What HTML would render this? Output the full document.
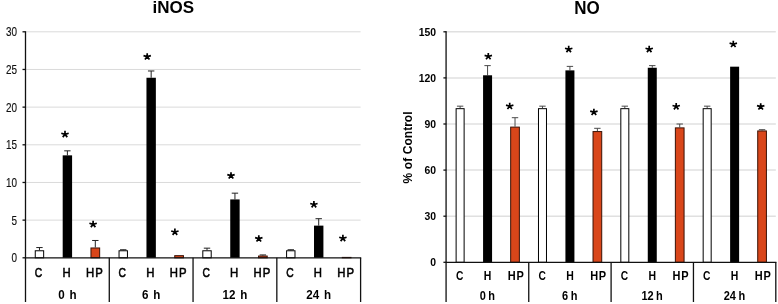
<!DOCTYPE html>
<html><head><meta charset="utf-8"><title>chart</title>
<style>
html,body{margin:0;padding:0;background:#fff;}
body{width:778px;height:304px;overflow:hidden;font-family:"Liberation Sans",sans-serif;}
svg{display:block;will-change:transform;}
text{font-family:"Liberation Sans",sans-serif;fill:#000;}
.t{font-weight:bold;font-size:17px;}
.cat{font-size:12.6px;stroke:#000;stroke-width:0.55px;}
.cat2{font-size:12.5px;font-weight:bold;}
.grp2{font-size:12.8px;font-weight:bold;word-spacing:-0.7px;}
.grp{font-size:12.9px;font-weight:bold;word-spacing:1.9px;}
.yl{font-size:12.4px;fill:#111;stroke:#111;stroke-width:0.15px;}
.yr{font-size:11.2px;font-weight:bold;}
.ax{stroke:#111;stroke-width:1.3;fill:none;}
.gr{stroke:#dadada;stroke-width:1;fill:none;}
.gr2{stroke:#e0e0e0;stroke-width:1.5;fill:none;}
.ax2{stroke:#484848;stroke-width:1.7;fill:none;}
.eb{stroke:#222;stroke-width:1;fill:none;}
.eb2{stroke:#4a4a4a;stroke-width:1;fill:none;}
.ebg{stroke:#555;stroke-width:1;fill:none;}
</style></head><body>
<svg width="778" height="304" viewBox="0 0 778 304">
<rect width="778" height="304" fill="#fff"/>
<line class="gr" x1="25.5" y1="220.13" x2="360.6" y2="220.13"/>
<line class="gr" x1="25.5" y1="182.47" x2="360.6" y2="182.47"/>
<line class="gr" x1="25.5" y1="144.8" x2="360.6" y2="144.8"/>
<line class="gr" x1="25.5" y1="107.13" x2="360.6" y2="107.13"/>
<line class="gr" x1="25.5" y1="69.47" x2="360.6" y2="69.47"/>
<line class="gr" x1="25.5" y1="31.8" x2="360.6" y2="31.8"/>
<path class="eb" d="M39.46 250.27 V247.55 M36.26 247.55 H42.66"/>
<rect x="35.26" y="250.77" width="8.4" height="7.03" fill="#fff" stroke="#000" stroke-width="1"/>
<path class="eb" d="M67.39 155.35 V150.83 M64.19 150.83 H70.59"/>
<rect x="62.69" y="155.35" width="9.4" height="102.45" fill="#000"/>
<path class="eb" d="M95.31 247.48 V240.47 M92.11 240.47 H98.51"/>
<rect x="90.96" y="247.98" width="8.7" height="9.82" fill="#d9461a" stroke="#3a1206" stroke-width="1"/>
<path class="eb" d="M123.24 250.27 V249.74 M120.04 249.74 H126.44"/>
<rect x="119.04" y="250.77" width="8.4" height="7.03" fill="#fff" stroke="#000" stroke-width="1"/>
<path class="eb" d="M151.16 77.75 V70.97 M147.96 70.97 H154.36"/>
<rect x="146.46" y="77.75" width="9.4" height="180.05" fill="#000"/>
<rect x="174.74" y="255.66" width="8.7" height="2.14" fill="#d9461a" stroke="#3a1206" stroke-width="1"/>
<path class="eb" d="M207.01 250.27 V248.16 M203.81 248.16 H210.21"/>
<rect x="202.81" y="250.77" width="8.4" height="7.03" fill="#fff" stroke="#000" stroke-width="1"/>
<path class="eb" d="M234.94 199.42 V193.16 M231.74 193.16 H238.14"/>
<rect x="230.24" y="199.42" width="9.4" height="58.38" fill="#000"/>
<path class="eb" d="M262.86 255.54 V254.94 M259.66 254.94 H266.06"/>
<rect x="258.51" y="256.04" width="8.7" height="1.76" fill="#d9461a" stroke="#3a1206" stroke-width="1"/>
<path class="eb" d="M290.79 250.27 V249.74 M287.59 249.74 H293.99"/>
<rect x="286.59" y="250.77" width="8.4" height="7.03" fill="#fff" stroke="#000" stroke-width="1"/>
<path class="eb" d="M318.71 225.63 V218.7 M315.51 218.7 H321.91"/>
<rect x="314.01" y="225.63" width="9.4" height="32.17" fill="#000"/>
<rect x="342.29" y="257.4" width="8.7" height="0.4" fill="#d9461a" stroke="#3a1206" stroke-width="1"/>
<line class="ax" x1="25.5" y1="31.2" x2="25.5" y2="302"/>
<line class="ax" x1="24.9" y1="257.8" x2="361.2" y2="257.8"/>
<line class="ax" x1="109.28" y1="257.8" x2="109.28" y2="302"/>
<line class="ax" x1="193.05" y1="257.8" x2="193.05" y2="302"/>
<line class="ax" x1="276.83" y1="257.8" x2="276.83" y2="302"/>
<line class="ax" x1="360.6" y1="257.8" x2="360.6" y2="302"/>
<line class="ax" x1="22.5" y1="257.8" x2="25.5" y2="257.8"/>
<text class="yl" text-anchor="end" transform="translate(17 262.2) scale(0.8 1)">0</text>
<line class="ax" x1="22.5" y1="220.13" x2="25.5" y2="220.13"/>
<text class="yl" text-anchor="end" transform="translate(17 224.53) scale(0.8 1)">5</text>
<line class="ax" x1="22.5" y1="182.47" x2="25.5" y2="182.47"/>
<text class="yl" text-anchor="end" transform="translate(17 186.87) scale(0.8 1)">10</text>
<line class="ax" x1="22.5" y1="144.8" x2="25.5" y2="144.8"/>
<text class="yl" text-anchor="end" transform="translate(17 149.2) scale(0.8 1)">15</text>
<line class="ax" x1="22.5" y1="107.13" x2="25.5" y2="107.13"/>
<text class="yl" text-anchor="end" transform="translate(17 111.53) scale(0.8 1)">20</text>
<line class="ax" x1="22.5" y1="69.47" x2="25.5" y2="69.47"/>
<text class="yl" text-anchor="end" transform="translate(17 73.87) scale(0.8 1)">25</text>
<line class="ax" x1="22.5" y1="31.8" x2="25.5" y2="31.8"/>
<text class="yl" text-anchor="end" transform="translate(17 36.2) scale(0.8 1)">30</text>
<text class="cat" text-anchor="middle" transform="translate(38.56 276.7) scale(0.82 1)">C</text>
<text class="cat" text-anchor="middle" transform="translate(66.49 276.7) scale(0.9 1)">H</text>
<text class="cat" text-anchor="middle" transform="translate(94.91 276.7) scale(0.9 1)" style="letter-spacing:1.3px">HP</text>
<text class="grp" text-anchor="middle" transform="translate(67.39 299) scale(0.9 1)">0 h</text>
<text class="cat" text-anchor="middle" transform="translate(122.34 276.7) scale(0.82 1)">C</text>
<text class="cat" text-anchor="middle" transform="translate(150.26 276.7) scale(0.9 1)">H</text>
<text class="cat" text-anchor="middle" transform="translate(178.69 276.7) scale(0.9 1)" style="letter-spacing:1.3px">HP</text>
<text class="grp" text-anchor="middle" transform="translate(151.16 299) scale(0.9 1)">6 h</text>
<text class="cat" text-anchor="middle" transform="translate(206.11 276.7) scale(0.82 1)">C</text>
<text class="cat" text-anchor="middle" transform="translate(234.04 276.7) scale(0.9 1)">H</text>
<text class="cat" text-anchor="middle" transform="translate(262.46 276.7) scale(0.9 1)" style="letter-spacing:1.3px">HP</text>
<text class="grp" text-anchor="middle" transform="translate(234.94 299) scale(0.9 1)">12 h</text>
<text class="cat" text-anchor="middle" transform="translate(289.89 276.7) scale(0.82 1)">C</text>
<text class="cat" text-anchor="middle" transform="translate(317.81 276.7) scale(0.9 1)">H</text>
<text class="cat" text-anchor="middle" transform="translate(346.24 276.7) scale(0.9 1)" style="letter-spacing:1.3px">HP</text>
<text class="grp" text-anchor="middle" transform="translate(318.71 299) scale(0.9 1)">24 h</text>
<line class="gr2" x1="446.4" y1="216.2" x2="775.8" y2="216.2"/>
<line class="gr2" x1="446.4" y1="170.1" x2="775.8" y2="170.1"/>
<line class="gr2" x1="446.4" y1="124" x2="775.8" y2="124"/>
<line class="gr2" x1="446.4" y1="77.9" x2="775.8" y2="77.9"/>
<line class="gr2" x1="446.4" y1="31.8" x2="775.8" y2="31.8"/>
<path class="eb2" d="M460.12 108.17 V106.17 M456.93 106.17 H463.32"/>
<rect x="456.12" y="108.67" width="8" height="153.63" fill="#fff" stroke="#000" stroke-width="1"/>
<path class="eb2" d="M487.57 75.29 V65.61 M484.38 65.61 H490.77"/>
<rect x="483.07" y="75.29" width="9" height="187.01" fill="#000"/>
<path class="eb2" d="M515.02 126.61 V117.7 M511.82 117.7 H518.23"/>
<rect x="510.67" y="127.11" width="8.7" height="135.19" fill="#d9461a" stroke="#3a1206" stroke-width="1"/>
<path class="eb2" d="M542.48 108.17 V106.17 M539.27 106.17 H545.68"/>
<rect x="538.48" y="108.67" width="8" height="153.63" fill="#fff" stroke="#000" stroke-width="1"/>
<path class="eb2" d="M569.92 70.37 V66.38 M566.72 66.38 H573.12"/>
<rect x="565.42" y="70.37" width="9" height="191.93" fill="#000"/>
<path class="eb2" d="M597.38 131.07 V128.3 M594.17 128.3 H600.58"/>
<rect x="593.02" y="131.57" width="8.7" height="130.73" fill="#d9461a" stroke="#3a1206" stroke-width="1"/>
<path class="eb2" d="M624.82 108.17 V106.17 M621.62 106.17 H628.02"/>
<rect x="620.82" y="108.67" width="8" height="153.63" fill="#fff" stroke="#000" stroke-width="1"/>
<path class="eb2" d="M652.27 67.76 V65.61 M649.07 65.61 H655.47"/>
<rect x="647.77" y="67.76" width="9" height="194.54" fill="#000"/>
<path class="eb2" d="M679.72 127.38 V124 M676.52 124 H682.92"/>
<rect x="675.37" y="127.88" width="8.7" height="134.42" fill="#d9461a" stroke="#3a1206" stroke-width="1"/>
<path class="eb2" d="M707.17 108.17 V106.17 M703.97 106.17 H710.38"/>
<rect x="703.17" y="108.67" width="8" height="153.63" fill="#fff" stroke="#000" stroke-width="1"/>
<rect x="730.12" y="66.68" width="9" height="195.62" fill="#000"/>
<path class="eb2" d="M762.07 130.45 V129.69 M758.87 129.69 H765.27"/>
<rect x="757.72" y="130.95" width="8.7" height="131.35" fill="#d9461a" stroke="#3a1206" stroke-width="1"/>
<line class="ax2" x1="446.1" y1="31.2" x2="446.1" y2="302"/>
<line class="ax" x1="445.8" y1="262.3" x2="776.4" y2="262.3"/>
<line class="ax" x1="528.75" y1="262.3" x2="528.75" y2="302"/>
<line class="ax" x1="611.1" y1="262.3" x2="611.1" y2="302"/>
<line class="ax" x1="693.45" y1="262.3" x2="693.45" y2="302"/>
<line class="ax" x1="775.8" y1="262.3" x2="775.8" y2="302"/>
<line class="ax" x1="443.4" y1="262.3" x2="446.4" y2="262.3"/>
<text class="yr" text-anchor="end" transform="translate(436 266.3) scale(0.93 1)">0</text>
<line class="ax" x1="443.4" y1="216.2" x2="446.4" y2="216.2"/>
<text class="yr" text-anchor="end" transform="translate(436 220.2) scale(0.93 1)">30</text>
<line class="ax" x1="443.4" y1="170.1" x2="446.4" y2="170.1"/>
<text class="yr" text-anchor="end" transform="translate(436 174.1) scale(0.93 1)">60</text>
<line class="ax" x1="443.4" y1="124" x2="446.4" y2="124"/>
<text class="yr" text-anchor="end" transform="translate(436 128) scale(0.93 1)">90</text>
<line class="ax" x1="443.4" y1="77.9" x2="446.4" y2="77.9"/>
<text class="yr" text-anchor="end" transform="translate(436 81.9) scale(0.93 1)">120</text>
<line class="ax" x1="443.4" y1="31.8" x2="446.4" y2="31.8"/>
<text class="yr" text-anchor="end" transform="translate(436 35.8) scale(0.93 1)">150</text>
<text class="cat2" text-anchor="middle" transform="translate(459.72 280) scale(0.82 1)">C</text>
<text class="cat2" text-anchor="middle" transform="translate(487.57 280) scale(0.84 1)">H</text>
<text class="cat2" text-anchor="middle" transform="translate(516.12 280) scale(0.88 1)" style="letter-spacing:0.8px">HP</text>
<text class="grp2" text-anchor="middle" transform="translate(487.38 299.6) scale(0.86 1)">0 h</text>
<text class="cat2" text-anchor="middle" transform="translate(542.08 280) scale(0.82 1)">C</text>
<text class="cat2" text-anchor="middle" transform="translate(569.92 280) scale(0.84 1)">H</text>
<text class="cat2" text-anchor="middle" transform="translate(598.48 280) scale(0.88 1)" style="letter-spacing:0.8px">HP</text>
<text class="grp2" text-anchor="middle" transform="translate(569.72 299.6) scale(0.86 1)">6 h</text>
<text class="cat2" text-anchor="middle" transform="translate(624.42 280) scale(0.82 1)">C</text>
<text class="cat2" text-anchor="middle" transform="translate(652.27 280) scale(0.84 1)">H</text>
<text class="cat2" text-anchor="middle" transform="translate(680.82 280) scale(0.88 1)" style="letter-spacing:0.8px">HP</text>
<text class="grp2" text-anchor="middle" transform="translate(652.07 299.6) scale(0.86 1)">12 h</text>
<text class="cat2" text-anchor="middle" transform="translate(706.77 280) scale(0.82 1)">C</text>
<text class="cat2" text-anchor="middle" transform="translate(734.62 280) scale(0.84 1)">H</text>
<text class="cat2" text-anchor="middle" transform="translate(763.17 280) scale(0.88 1)" style="letter-spacing:0.8px">HP</text>
<text class="grp2" text-anchor="middle" transform="translate(734.42 299.6) scale(0.86 1)">24 h</text>
<text class="t" x="152.6" y="13.3">iNOS</text>
<text class="t" transform="translate(574.3 13.6) scale(1 1.06)">NO</text>
<text transform="translate(412.3 183.6) rotate(-90)" style="font-size:12px;font-weight:bold;word-spacing:0.4px">% of Control</text>
<path d="M65 134.35L65 130.87M65 134.35L68.69 133.28M65 134.35L67.28 137.16M65 134.35L62.72 137.16M65 134.35L61.31 133.28" stroke="#000" stroke-width="1.7" fill="none"/>
<path d="M147.2 56.65L147.2 53.17M147.2 56.65L150.89 55.58M147.2 56.65L149.48 59.46M147.2 56.65L144.92 59.46M147.2 56.65L143.51 55.58" stroke="#000" stroke-width="1.7" fill="none"/>
<path d="M174.9 232.05L174.9 228.57M174.9 232.05L178.59 230.98M174.9 232.05L177.18 234.86M174.9 232.05L172.62 234.86M174.9 232.05L171.21 230.98" stroke="#000" stroke-width="1.7" fill="none"/>
<path d="M231 175.65L231 172.17M231 175.65L234.69 174.58M231 175.65L233.28 178.46M231 175.65L228.72 178.46M231 175.65L227.31 174.58" stroke="#000" stroke-width="1.7" fill="none"/>
<path d="M258.8 238.65L258.8 235.17M258.8 238.65L262.49 237.58M258.8 238.65L261.08 241.46M258.8 238.65L256.52 241.46M258.8 238.65L255.11 237.58" stroke="#000" stroke-width="1.7" fill="none"/>
<path d="M313.9 204.55L313.9 201.07M313.9 204.55L317.59 203.48M313.9 204.55L316.18 207.36M313.9 204.55L311.62 207.36M313.9 204.55L310.21 203.48" stroke="#000" stroke-width="1.7" fill="none"/>
<path d="M342.9 238.35L342.9 234.87M342.9 238.35L346.59 237.28M342.9 238.35L345.18 241.16M342.9 238.35L340.62 241.16M342.9 238.35L339.21 237.28" stroke="#000" stroke-width="1.7" fill="none"/>
<path d="M93.1 224.35L93.1 220.87M93.1 224.35L96.79 223.28M93.1 224.35L95.38 227.16M93.1 224.35L90.82 227.16M93.1 224.35L89.41 223.28" stroke="#000" stroke-width="1.7" fill="none"/>
<path d="M488.3 56.45L488.3 52.97M488.3 56.45L491.99 55.38M488.3 56.45L490.58 59.26M488.3 56.45L486.02 59.26M488.3 56.45L484.61 55.38" stroke="#000" stroke-width="1.7" fill="none"/>
<path d="M509.7 106.25L509.7 102.77M509.7 106.25L513.39 105.18M509.7 106.25L511.98 109.06M509.7 106.25L507.42 109.06M509.7 106.25L506.01 105.18" stroke="#000" stroke-width="1.7" fill="none"/>
<path d="M568.7 49.35L568.7 45.87M568.7 49.35L572.39 48.28M568.7 49.35L570.98 52.16M568.7 49.35L566.42 52.16M568.7 49.35L565.01 48.28" stroke="#000" stroke-width="1.7" fill="none"/>
<path d="M593.9 112.15L593.9 108.67M593.9 112.15L597.59 111.08M593.9 112.15L596.18 114.96M593.9 112.15L591.62 114.96M593.9 112.15L590.21 111.08" stroke="#000" stroke-width="1.7" fill="none"/>
<path d="M649.2 49.35L649.2 45.87M649.2 49.35L652.89 48.28M649.2 49.35L651.48 52.16M649.2 49.35L646.92 52.16M649.2 49.35L645.51 48.28" stroke="#000" stroke-width="1.7" fill="none"/>
<path d="M676.2 106.55L676.2 103.07M676.2 106.55L679.89 105.48M676.2 106.55L678.48 109.36M676.2 106.55L673.92 109.36M676.2 106.55L672.51 105.48" stroke="#000" stroke-width="1.7" fill="none"/>
<path d="M733.3 44.25L733.3 40.77M733.3 44.25L736.99 43.18M733.3 44.25L735.58 47.06M733.3 44.25L731.02 47.06M733.3 44.25L729.61 43.18" stroke="#000" stroke-width="1.7" fill="none"/>
<path d="M760.7 106.65L760.7 103.17M760.7 106.65L764.39 105.58M760.7 106.65L762.98 109.46M760.7 106.65L758.42 109.46M760.7 106.65L757.01 105.58" stroke="#000" stroke-width="1.7" fill="none"/>
</svg></body></html>
